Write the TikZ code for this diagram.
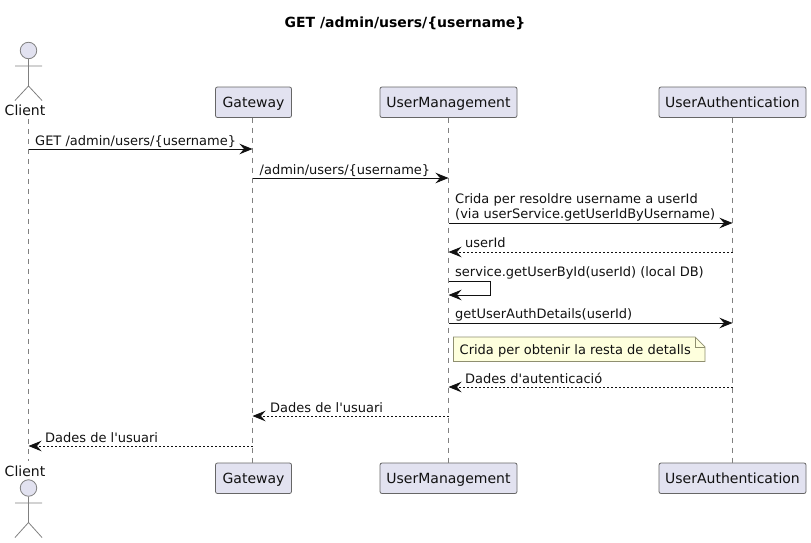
\documentclass[tikz,border=0pt]{standalone}
\usepackage{fontspec}
\setmainfont{DejaVu Sans}
\usetikzlibrary{arrows.meta}
\definecolor{partfill}{HTML}{E2E2F0}
\definecolor{partline}{HTML}{666666}
\definecolor{lifegrey}{HTML}{808080}
\definecolor{notefill}{HTML}{FEFFDD}
\definecolor{noteline}{HTML}{8F8F70}
\definecolor{ink}{HTML}{111111}
\tikzset{
  x=1pt,y=-1pt,
  party/.style={draw=partline,fill=partfill,rounded corners=2pt,line width=0.8pt,minimum height=30.5pt,inner sep=0pt,text height=13pt,text depth=3pt,font=\fontsize{14}{16}\selectfont,text=ink},
  lifeline/.style={draw=lifegrey,line width=0.7pt,dash pattern=on 5pt off 5pt},
  actorline/.style={draw=lifegrey,line width=0.8pt},
  actorhead/.style={draw=lifegrey,fill=partfill,line width=0.8pt},
  tip/.style={-{Stealth[length=13pt,width=10.5pt,inset=4.5pt]}},
  msg/.style={draw=ink,line width=0.9pt,tip},
  reply/.style={draw=ink,line width=0.9pt,dash pattern=on 2pt off 2pt,tip},
  lbl/.style={anchor=base west,inner sep=0pt,font=\fontsize{13}{15.5}\selectfont,text=ink,align=left},
  actorlbl/.style={anchor=base,inner sep=0pt,font=\fontsize{14}{16}\selectfont,text=ink},
}
\begin{document}
\begin{tikzpicture}
\useasboundingbox (0,0) rectangle (811,543);
% title
\node[anchor=base,inner sep=0pt,font=\fontsize{14}{16}\selectfont\bfseries,text=black] (title) at (405,28) {GET /admin/users/\{username\}};
% lifelines end points
\coordinate (cT) at (28.5,119);
\coordinate (cB) at (28.5,461);
\node[party,minimum width=76pt] (gT) at (253.5,102.25) {Gateway};
\node[party,minimum width=76pt] (gB) at (253.5,478.25) {Gateway};
\node[party,minimum width=137pt] (uT) at (448.5,102.25) {UserManagement};
\node[party,minimum width=137pt] (uB) at (448.5,478.25) {UserManagement};
\node[party,minimum width=147pt] (aT) at (732.5,102.25) {UserAuthentication};
\node[party,minimum width=147pt] (aB) at (732.5,478.25) {UserAuthentication};
\draw[lifeline] (cT) -- (cB);
\coordinate (g1) at (252.5,117.5); \coordinate (g2) at (252.5,463);
\coordinate (u1) at (448.5,117.5); \coordinate (u2) at (448.5,463);
\coordinate (a1) at (732.5,117.5); \coordinate (a2) at (732.5,463);
\draw[lifeline] (g1) -- (g2);
\draw[lifeline] (u1) -- (u2);
\draw[lifeline] (a1) -- (a2);
% actor top
\node[actorlbl] (clientT) at (25,115) {Client};
\node[actorlbl] (clientB) at (25,476) {Client};
\node[actorhead,circle,minimum size=16.5pt,inner sep=0pt] (headT) at (28.5,50.5) {};
\coordinate (hipT) at (28.5,86); \coordinate (armLT) at (15,66); \coordinate (armRT) at (42,66);
\coordinate (legLT) at (15,100.5); \coordinate (legRT) at (42,100.5);
\draw[actorline] (headT.south) -- (hipT) (armLT) -- (armRT) (legLT) -- (hipT) -- (legRT);
\node[actorhead,circle,minimum size=16.5pt,inner sep=0pt] (headB) at (28.5,488) {};
\coordinate (hipB) at (28.5,522.5); \coordinate (armLB) at (15,503); \coordinate (armRB) at (42,503);
\coordinate (legLB) at (15,537.5); \coordinate (legRB) at (42,537.5);
\draw[actorline] (headB.south) -- (hipB) (armLB) -- (armRB) (legLB) -- (hipB) -- (legRB);
% message anchors
\foreach \n/\y in {1/149,2/178,3/223,4/252,5/281,6/295,7/323,8/387,9/416,10/446}{
  \coordinate (m\n c) at (28.5,\y);
  \coordinate (m\n g) at (252.5,\y);
  \coordinate (m\n u) at (448.5,\y);
  \coordinate (m\n a) at (732.5,\y);
}
\coordinate (s5) at (490.5,281); \coordinate (s6) at (490.5,295);
\draw[msg] (m1c) -- (m1g);
\draw[msg] (m2g) -- (m2u);
\draw[msg] (m3u) -- (m3a);
\draw[reply] (m4a) -- (m4u);
\draw[msg] (m5u) -- (s5) -- (s6) -- (m6u);
\draw[msg] (m7u) -- (m7a);
\draw[reply] (m8a) -- (m8u);
\draw[reply] (m9u) -- (m9g);
\draw[reply] (m10g) -- (m10c);
% labels
\node[lbl] (l1) at (35,145) {GET /admin/users/\{username\}};
\node[lbl] (l2) at (259.5,174) {/admin/users/\{username\}};
\node[lbl] (l3) at (455,203) {Crida per resoldre username a userId};
\node[lbl] (l3b) at (455,218) {(via userService.getUserIdByUsername)};
\node[lbl] (l4) at (465,247) {userId};
\node[lbl] (l5) at (455,276) {service.getUserById(userId) (local DB)};
\node[lbl] (l7) at (455,318) {getUserAuthDetails(userId)};
\node[lbl] (l8) at (465,383) {Dades d\textquotesingle autenticació};
\node[lbl] (l9) at (270,412) {Dades de l\textquotesingle usuari};
\node[lbl] (l10) at (45,442) {Dades de l\textquotesingle usuari};
% note
\draw[draw=noteline,fill=notefill,line width=0.7pt] (453.5,337) -- (695,337) -- (705,347) -- (705,361.5) -- (453.5,361.5) -- cycle;
\draw[draw=noteline,line width=0.7pt] (695,337) -- (695,347) -- (705,347);
\node[lbl] (note) at (459.5,354) {Crida per obtenir la resta de detalls};
\end{tikzpicture}
\end{document}
